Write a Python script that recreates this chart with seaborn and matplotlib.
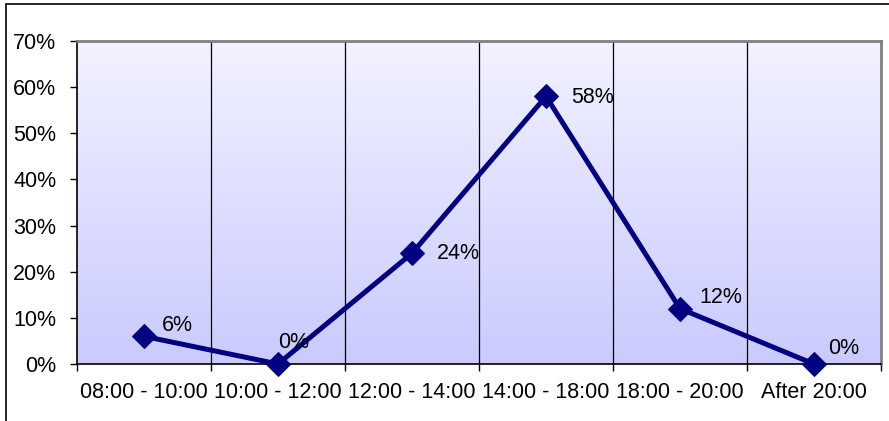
import numpy as np
import pandas as pd
import seaborn as sns
import matplotlib.pyplot as plt
from matplotlib.patches import Rectangle
from matplotlib.ticker import PercentFormatter

sns.set_style("white")
plt.rcParams['font.family'] = ['Liberation Sans', 'DejaVu Sans']

# Share of responses per time slot
time_slots = ["08:00 - 10:00", "10:00 - 12:00", "12:00 - 14:00",
              "14:00 - 18:00", "18:00 - 20:00", "After 20:00"]
shares = [0.06, 0.00, 0.24, 0.58, 0.12, 0.00]

# label offsets in pixels (dx, dy) relative to each point
label_offsets = [(18, 11), (0, 22), (25, 0), (25, -1), (19, 11), (14, 15)]

df = pd.DataFrame({"slot": time_slots, "share": shares, "pos": np.arange(len(time_slots))})

FS = 15.5

fig = plt.figure(figsize=(8.89, 4.21), dpi=100)
ax = fig.add_axes([77 / 889, 57 / 421, 804 / 889, 323 / 421])

# outer chart frame
fig.patches.append(Rectangle((6 / 889, -0.05), 1.2, (421 - 4) / 421 + 0.05,
                             transform=fig.transFigure, fill=False,
                             edgecolor="black", linewidth=1.2))

n = len(time_slots)

# vertical gradient background of the plot area (light at top, lavender at bottom)
grad = np.linspace(0, 1, 256)[:, None, None]
top = np.array([242, 242, 255]) / 255
bot = np.array([202, 202, 255]) / 255
cols = top[None, None, :] * (1 - grad) + bot[None, None, :] * grad
ax.imshow(cols, extent=(-0.5, n - 0.5, 0, 0.7), aspect="auto", zorder=0, origin="upper")

# category boundaries: ticks and gridlines; labels centred between them
bounds = np.arange(-0.5, n, 1.0)
ax.set_xticks(bounds)
ax.set_xticklabels([])
ax.set_xticks(np.arange(n), minor=True)
ax.set_xticklabels(time_slots, minor=True)
for b in bounds[1:-1]:
    ax.axvline(b, color="black", linewidth=0.9, zorder=1)

ax.set_yticks(np.arange(0, 0.71, 0.1))
ax.yaxis.set_major_formatter(PercentFormatter(1.0, decimals=0))

ax.tick_params(axis="x", which="major", direction="out", length=5, width=1, color="black", bottom=True)
ax.tick_params(axis="x", which="minor", length=0, labelsize=FS, pad=13, labelcolor="black")
ax.tick_params(axis="y", direction="out", length=5, width=1, color="black", left=True,
               labelsize=FS, pad=10, labelcolor="black")

for side in ["left", "bottom"]:
    ax.spines[side].set_color("black")
    ax.spines[side].set_linewidth(1.2)
for side in ["top", "right"]:
    ax.spines[side].set_color("#808080")
    ax.spines[side].set_linewidth(2)

sns.lineplot(data=df, x="pos", y="share", ax=ax, color="#000080", linewidth=3.6,
             marker="D", markersize=12, markeredgecolor="#000080", clip_on=False, zorder=5)
ax.set_xlabel("")
ax.set_ylabel("")
ax.set_xlim(-0.5, n - 0.5)
ax.set_ylim(0, 0.7)

for x, y, (dx, dy) in zip(df["pos"], df["share"], label_offsets):
    ax.annotate(f"{y:.0%}", (x, y), xytext=(dx * 0.72, dy * 0.72), textcoords="offset points",
                ha="left", va="center", fontsize=FS, color="black", zorder=6)

fig.savefig("out.png", dpi=100)
